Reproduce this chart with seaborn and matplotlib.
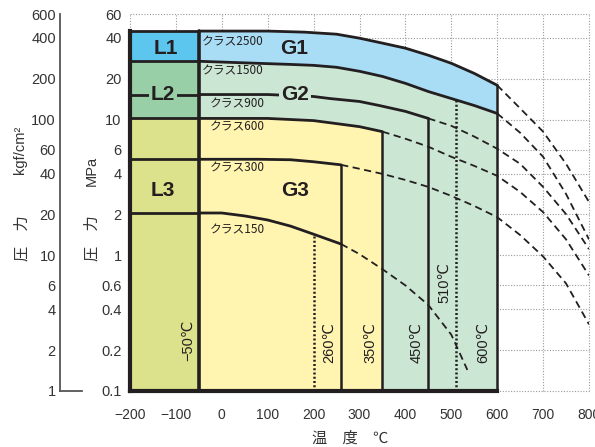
import matplotlib
matplotlib.use("Agg")
import matplotlib.pyplot as plt
from matplotlib.ticker import FixedLocator, NullFormatter
import seaborn as sns
import numpy as np

# pressure (MPa) vs temperature (degC)
t2500 = [-50, 100, 180, 250, 300, 350, 400, 450, 500, 550, 600]
p2500 = [44.9, 44.9, 44.1, 42.6, 39.8, 36.6, 33.6, 29.8, 26.0, 21.9, 17.9]
t1500 = [-50, 150, 200, 250, 300, 350, 400, 450, 500, 550, 600]
p1500 = [26.9, 25.5, 25.1, 24.3, 22.7, 20.8, 18.5, 16.1, 14.3, 12.7, 11.1]
t900 = [-50, 100, 200, 235, 300, 343, 400, 450]
p900 = [15.3, 15.3, 14.8, 14.3, 13.6, 12.7, 11.5, 10.2]
t600 = [-50, 100, 200, 250, 300, 350]
p600 = [10.2, 10.2, 9.83, 9.34, 8.87, 8.15]
t300 = [-50, 80, 150, 200, 260]
p300 = [5.1, 5.1, 5.06, 4.89, 4.64]
t150 = [-50, 0, 50, 100, 150, 200, 260]
p150 = [2.05, 2.05, 1.95, 1.82, 1.64, 1.43, 1.21]

# dashed continuations
t2500d = [600, 650, 700, 750, 800]
p2500d = [17.9, 12.1, 8.15, 4.72, 2.47]
t1500d = [600, 650, 700, 750, 800]
p1500d = [11.1, 8.0, 5.32, 2.83, 1.31]
t900d = [450, 500, 550, 600, 650, 700, 750, 800]
p900d = [10.2, 9.0, 7.5, 6.1, 4.72, 3.19, 2.01, 1.11]
t600d = [350, 400, 450, 500, 550, 600, 650, 700, 750, 800]
p600d = [8.15, 7.23, 6.31, 5.32, 4.56, 3.85, 2.93, 2.08, 1.31, 0.71]
t300d = [260, 300, 350, 400, 450, 500, 550, 600, 650, 700, 750, 800]
p300d = [4.64, 4.34, 3.98, 3.59, 3.19, 2.74, 2.31, 1.91, 1.41, 0.98, 0.62, 0.31]
t150d = [260, 300, 350, 400, 450, 500, 535]
p150d = [1.21, 1.02, 0.79, 0.60, 0.43, 0.26, 0.143]

class_labels = ["クラス2500", "クラス1500", "クラス900", "クラス600", "クラス300", "クラス150"]
class_pos = [(-44, 37.2), (-44, 22.7), (-26, 13.1), (-26, 8.87), (-26, 4.41), (-26, 1.53)]
temp_labels = ["−50℃", "260℃", "350℃", "450℃", "510℃", "600℃"]
temp_pos = [(-74, 0.238), (233, 0.227), (324, 0.227), (425, 0.227), (485, 0.63), (570, 0.227)]

x_ticks = [-200, -100, 0, 100, 200, 300, 400, 500, 600, 700, 800]
x_labels = ["−200", "−100", "0", "100", "200", "300", "400", "500", "600", "700", "800"]
mpa_ticks = [0.1, 0.2, 0.4, 0.6, 1, 2, 4, 6, 10, 20, 40, 60]
mpa_labels = ["0.1", "0.2", "0.4", "0.6", "1", "2", "4", "6", "10", "20", "40", "60"]
mpa_minor = [0.3, 0.5, 0.7, 0.8, 0.9, 3, 5, 7, 8, 9, 30, 50]
kgf_ticks = [1, 2, 4, 6, 10, 20, 40, 60, 100, 200, 400, 600]
kgf_minor = [3, 5, 7, 8, 9, 30, 50, 70, 80, 90, 300, 500]

C_L1, C_G1 = "#5cc6ef", "#a9ddf6"
C_L2, C_G2 = "#98cfa7", "#cbe6d3"
C_L3, C_G3 = "#dce18b", "#fff5b1"
INK = "#231f20"
CJK = ["Noto Sans CJK JP", "DejaVu Sans"]

sns.set_theme(style="white")
plt.rcParams["font.family"] = ["Liberation Sans", "DejaVu Sans"]

fig = plt.figure(figsize=(5.95, 4.47), dpi=100)
ax = fig.add_axes([130 / 595, 56 / 447, 459 / 595, 377 / 447])
ax.set_yscale("log")
ax.set_xlim(-200, 800)
ax.set_ylim(0.1, 60)

# dotted grid
for xv in x_ticks:
    ax.axvline(xv, color="#9a9a9a", lw=0.8, ls=(0, (1, 1.5)), zorder=0.5, clip_on=False)
for yv in mpa_ticks:
    ax.axhline(yv, color="#9a9a9a", lw=0.8, ls=(0, (1, 1.5)), zorder=0.5, clip_on=False)

# L regions
ax.fill_between([-200, -50], p1500[0], p2500[0], color=C_L1, lw=0, zorder=1)
ax.fill_between([-200, -50], p600[0], p1500[0], color=C_L2, lw=0, zorder=1)
ax.fill_between([-200, -50], 0.1, p600[0], color=C_L3, lw=0, zorder=1)

# G regions
ax.fill(t2500 + t1500[::-1], p2500 + p1500[::-1], color=C_G1, lw=0, zorder=1)
ax.fill(t1500 + [600, t600[-1]] + t600[::-1],
        p1500 + [0.1, 0.1] + p600[::-1], color=C_G2, lw=0, zorder=1)
ax.fill(t600 + [t600[-1], -50], p600 + [0.1, 0.1], color=C_G3, lw=0, zorder=1)

solid = dict(color=INK, lw=2.0, sort=False, estimator=None, errorbar=None, zorder=3)
for t, p in [(t2500, p2500), (t1500, p1500), (t900, p900),
             (t600, p600), (t300, p300), (t150, p150)]:
    sns.lineplot(x=t, y=p, ax=ax, **solid)
    sns.lineplot(x=[-200, -50], y=[p[0], p[0]], ax=ax, **solid)

dashed = dict(color=INK, lw=1.3, ls=(0, (4, 2.5)), sort=False, estimator=None,
              errorbar=None, zorder=3)
for t, p in [(t2500d, p2500d), (t1500d, p1500d), (t900d, p900d),
             (t600d, p600d), (t300d, p300d), (t150d, p150d)]:
    sns.lineplot(x=t, y=p, ax=ax, **dashed)

# vertical limits
vert = dict(color=INK, lw=1.8, sort=False, estimator=None, errorbar=None, zorder=3)
sns.lineplot(x=[-50, -50], y=[0.1, p2500[0]], ax=ax, **dict(vert, lw=2.6))
sns.lineplot(x=[t300[-1]] * 2, y=[0.1, p300[-1]], ax=ax, **vert)
sns.lineplot(x=[t600[-1]] * 2, y=[0.1, p600[-1]], ax=ax, **vert)
sns.lineplot(x=[t900[-1]] * 2, y=[0.1, p900[-1]], ax=ax, **vert)
sns.lineplot(x=[t2500[-1]] * 2, y=[0.1, p2500[-1]], ax=ax, **vert)
dot = dict(vert, lw=1.8, ls=(0, (0.8, 0.9)))
sns.lineplot(x=[200, 200], y=[0.1, p150[t150.index(200)]], ax=ax, **dot)
top510 = 10 ** np.interp(510, t1500, np.log10(p1500))
sns.lineplot(x=[510, 510], y=[0.1, top510], ax=ax, **dot)

# spines and ticks
for s in ["top", "right"]:
    ax.spines[s].set_visible(False)
ax.spines["left"].set_bounds(0.1, p2500[0])
ax.spines["bottom"].set_bounds(-200, 600)
for s in ["left", "bottom"]:
    ax.spines[s].set_color(INK)
    ax.spines[s].set_linewidth(3)
    ax.spines[s].set_zorder(3.5)
ax.set_xticks(x_ticks, x_labels)
ax.set_yticks(mpa_ticks, mpa_labels)
ax.yaxis.set_minor_locator(FixedLocator(mpa_minor))
ax.yaxis.set_minor_formatter(NullFormatter())
ax.tick_params(axis="x", which="both", length=0, pad=12, labelsize=10, labelcolor="#333333")
ax.tick_params(axis="y", which="major", length=0, pad=6, labelsize=10.5, labelcolor="#333333")
ax.tick_params(axis="y", which="minor", direction="in", length=5, width=1, color="#444444")
ax.set_xlabel("")
ax.set_ylabel("")

# region labels
bold = dict(fontsize=15, fontweight="bold", ha="center", va="center", color=INK, zorder=5)
ax.text(-122, 33.6, "L1", **bold)
ax.text(-128, 15.3, "L2", bbox=dict(fc=C_L2, ec="none", pad=1.5), **bold)
ax.text(-128, 2.98, "L3", **bold)
ax.text(158, 33.6, "G1", **bold)
ax.text(159, 15.3, "G2", bbox=dict(fc=C_G2, ec="none", pad=1.5), **bold)
ax.text(159, 2.98, "G3", **bold)

for lab, (tx, py) in zip(class_labels, class_pos):
    ax.text(tx, py, lab, fontsize=8.5, family=CJK, ha="left", va="center",
            color=INK, zorder=5)
for lab, (tx, py) in zip(temp_labels, temp_pos):
    ax.text(tx, py, lab, fontsize=10.5, rotation=90, ha="center", va="center",
            color=INK, zorder=5)

# kgf/cm2 axis
ax2 = fig.add_axes([60 / 595, 56 / 447, 22 / 595, 377 / 447])
ax2.set_yscale("log")
ax2.set_ylim(1, 600)
ax2.set_xlim(0, 1)
ax2.patch.set_visible(False)
for s in ["top", "right"]:
    ax2.spines[s].set_visible(False)
for s in ["left", "bottom"]:
    ax2.spines[s].set_color("#555555")
    ax2.spines[s].set_linewidth(1.3)
ax2.set_xticks([])
ax2.set_yticks(kgf_ticks, [str(v) for v in kgf_ticks])
ax2.yaxis.set_minor_locator(FixedLocator(kgf_minor))
ax2.yaxis.set_minor_formatter(NullFormatter())
ax2.tick_params(axis="y", which="both", direction="in", length=6, width=1,
                color="#555555", pad=3, labelsize=10.5, labelcolor="#333333")

# axis titles
fig.text(20 / 595, 1 - 150 / 447, "kgf/cm²", rotation=90, ha="center", va="center",
         fontsize=10.5, color="#333333")
fig.text(22 / 595, 1 - 238 / 447, "圧　力", rotation=90, ha="center", va="center",
         fontsize=11, family=CJK, color="#333333")
fig.text(92 / 595, 1 - 171 / 447, "MPa", rotation=90, ha="center", va="center",
         fontsize=10.5, color="#333333")
fig.text(92 / 595, 1 - 238 / 447, "圧　力", rotation=90, ha="center", va="center",
         fontsize=11, family=CJK, color="#333333")
fig.text(350 / 595, 1 - 438 / 447, "温　度　℃", ha="center", va="center",
         fontsize=11, family=CJK, color="#333333")

fig.savefig("out.png", dpi=100)
